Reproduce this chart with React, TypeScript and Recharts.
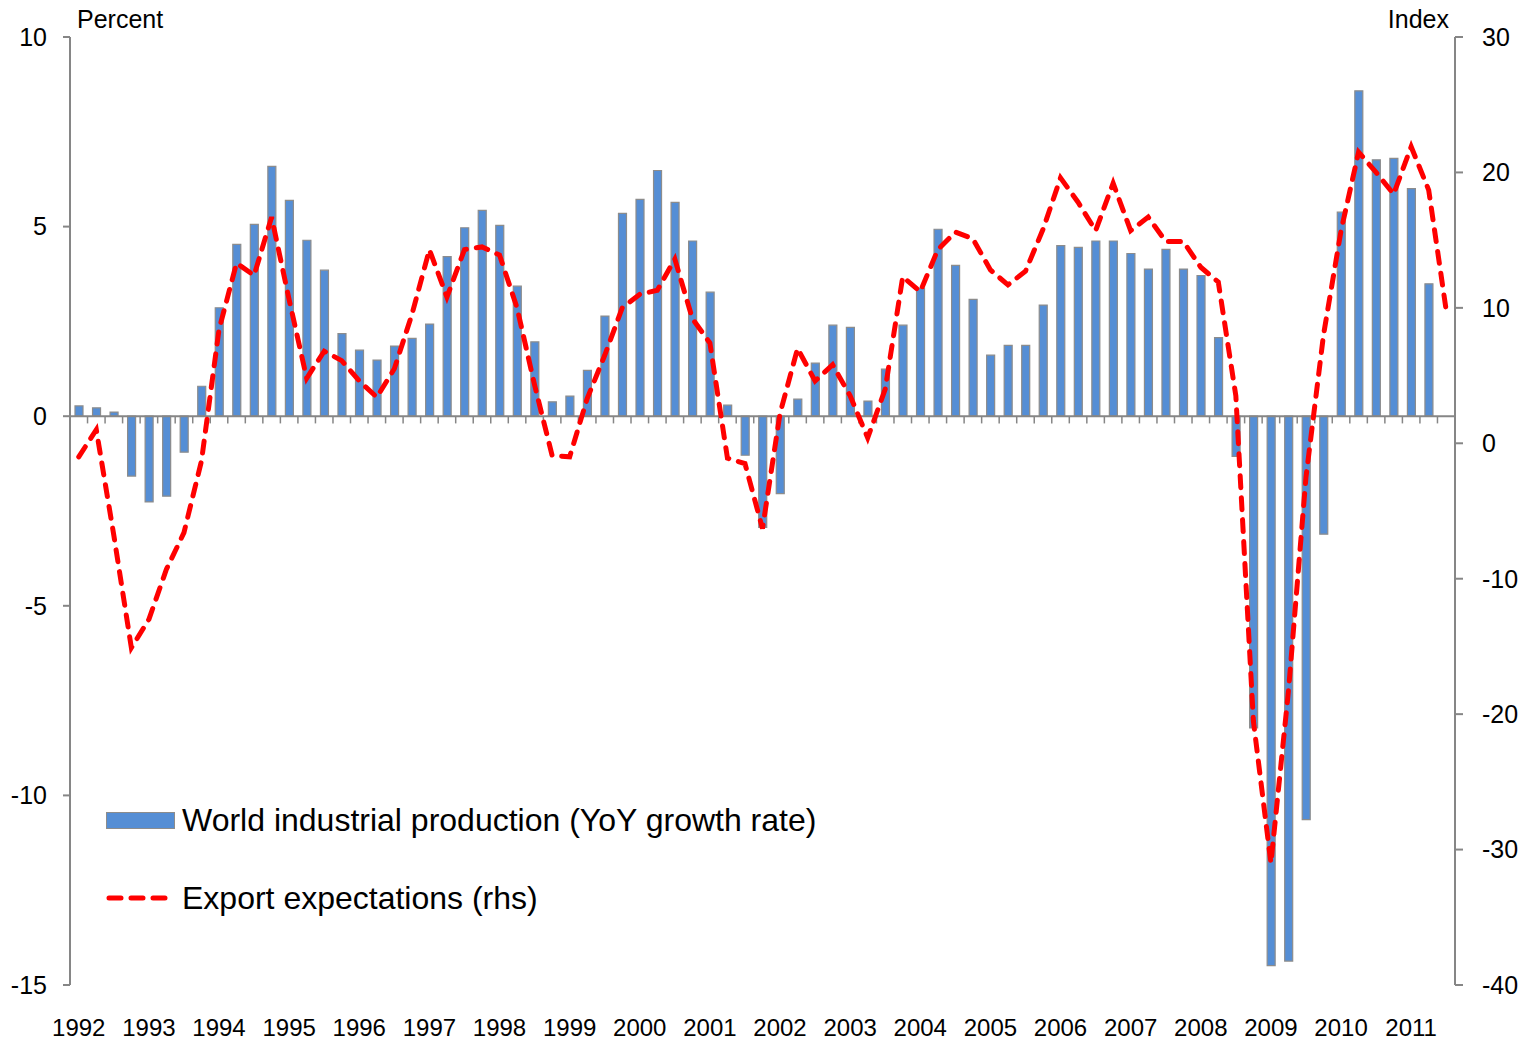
import { ComposedChart, Bar, Line, XAxis, YAxis, ReferenceLine } from "recharts";

const years = [
  "1992", "1993", "1994", "1995", "1996", "1997", "1998", "1999", "2000", "2001",
  "2002", "2003", "2004", "2005", "2006", "2007", "2008", "2009", "2010", "2011",
];
const quarterNames = ["Q1", "Q2", "Q3", "Q4"];

// quarterly, 1992Q1 .. 2011Q3
const industrialProduction: (number | null)[] = [
  0.27, 0.22, 0.11, -1.58, -2.26, -2.11, -0.95, 0.79,
  2.86, 4.53, 5.06, 6.59, 5.69, 4.64, 3.85, 2.18,
  1.74, 1.48, 1.85, 2.05, 2.43, 4.21, 4.97, 5.43,
  5.03, 3.43, 1.96, 0.38, 0.53, 1.21, 2.64, 5.35,
  5.72, 6.48, 5.64, 4.62, 3.27, 0.29, -1.03, -2.93,
  -2.04, 0.45, 1.4, 2.4, 2.34, 0.4, 1.24, 2.4,
  3.38, 4.93, 3.98, 3.08, 1.61, 1.87, 1.87, 2.93,
  4.5, 4.45, 4.62, 4.62, 4.29, 3.88, 4.4, 3.88,
  3.71, 2.07, -1.06, -8.22, -14.49, -14.37, -10.64, -3.11,
  5.38, 8.58, 6.76, 6.8, 6.0, 3.49, null,
];

const exportExpectations = [
  -1.0, 1.0, -6.8, -15.1, -13.0, -9.3, -6.6, -1.3,
  8.4, 13.3, 12.4, 16.7, 10.6, 4.8, 6.8, 6.1,
  4.6, 3.4, 5.5, 9.5, 14.3, 10.8, 14.3, 14.5,
  13.9, 10.0, 4.3, -0.9, -1.0, 3.3, 6.5, 10.0,
  11.0, 11.3, 13.6, 9.2, 7.4, -1.1, -1.5, -6.3,
  2.2, 7.0, 4.6, 5.8, 3.5, 0.4, 4.0, 12.3,
  11.2, 14.3, 15.6, 15.1, 12.8, 11.7, 12.7, 15.8,
  19.6, 17.8, 15.7, 19.2, 15.7, 16.7, 14.9, 14.9,
  13.0, 11.9, 3.5, -20.5, -31.0, -18.3, -2.5, 8.0,
  15.7, 21.5, 20.0, 18.4, 21.9, 18.7, 9.8,
];

const leftTicks = [-15, -10, -5, 0, 5, 10];
const rightTicks = [-40, -30, -20, -10, 0, 10, 20, 30];

const quarters = years
  .flatMap((y) => quarterNames.map((q) => `${y} ${q}`))
  .slice(0, exportExpectations.length);

const data = quarters.map((q, i) => ({
  quarter: q,
  ip: industrialProduction[i],
  exp: exportExpectations[i],
}));

const FONT = "'Liberation Sans', Arial, sans-serif";
const AXIS = "#868686";
const BAR_FILL = "#558ED5";
const BAR_EDGE = "#8C8C8C";
const LINE_RED = "#FF0000";

const yearLabel = (q: string) => (q.endsWith("Q1") ? q.slice(0, 4) : "");

export default function App() {
  return (
    <div style={{ position: "absolute", left: 0, top: 0, width: 1528, height: 1044, background: "#fff", fontFamily: FONT }}>
      <ComposedChart
        width={1528}
        height={1044}
        data={data}
        margin={{ top: 37, right: 0, bottom: 0, left: 0 }}
        barSize={8}
      >
        <XAxis
          dataKey="quarter"
          height={59}
          interval={0}
          axisLine={false}
          tickLine={false}
          tickSize={0}
          tickMargin={34}
          tickFormatter={yearLabel}
          tick={{ fill: "#000", fontSize: 24, fontFamily: FONT }}
        />
        <YAxis
          yAxisId="left"
          width={70}
          domain={[-15, 10]}
          ticks={leftTicks}
          allowDataOverflow
          stroke={AXIS}
          strokeWidth={2}
          tickSize={7}
          tickMargin={16}
          tick={{ fill: "#000", fontSize: 25, fontFamily: FONT }}
        />
        <YAxis
          yAxisId="right"
          orientation="right"
          width={73}
          domain={[-40, 30]}
          ticks={rightTicks}
          allowDataOverflow
          stroke={AXIS}
          strokeWidth={2}
          tickSize={8}
          tickMargin={19}
          tick={{ fill: "#000", fontSize: 25, fontFamily: FONT }}
        />
        <Bar
          yAxisId="left"
          dataKey="ip"
          fill={BAR_FILL}
          stroke={BAR_EDGE}
          strokeWidth={1.2}
          isAnimationActive={false}
        />
        <ReferenceLine yAxisId="left" y={0} stroke={AXIS} strokeWidth={2} />
        {quarters.slice(1).map((q) => (
          <ReferenceLine
            key={q}
            yAxisId="left"
            position="start"
            segment={[
              { x: q, y: 0 },
              { x: q, y: -0.19 },
            ]}
            stroke={AXIS}
            strokeWidth={1.5}
          />
        ))}
        <Line
          yAxisId="right"
          type="linear"
          dataKey="exp"
          stroke={LINE_RED}
          strokeWidth={5}
          strokeDasharray="12 10"
          strokeLinecap="round"
          dot={false}
          isAnimationActive={false}
        />
      </ComposedChart>

      <div style={{ position: "absolute", left: 77, top: 5, fontSize: 25, color: "#000" }}>Percent</div>
      <div style={{ position: "absolute", right: 1528 - 1449, top: 5, fontSize: 25, color: "#000" }}>Index</div>

      <div style={{ position: "absolute", left: 106, top: 798, fontSize: 32, color: "#000" }}>
        <div style={{ display: "flex", alignItems: "center", height: 44 }}>
          <div style={{ width: 67, height: 15, background: BAR_FILL, border: `1.5px solid ${BAR_EDGE}`, marginRight: 7 }} />
          <span>World industrial production (YoY growth rate)</span>
        </div>
        <div style={{ display: "flex", alignItems: "center", height: 44, marginTop: 34 }}>
          <svg width={70} height={10} style={{ marginRight: 6 }}>
            <line x1={3} y1={5} x2={67} y2={5} stroke={LINE_RED} strokeWidth={5} strokeDasharray="12 10" strokeLinecap="round" />
          </svg>
          <span>Export expectations (rhs)</span>
        </div>
      </div>
    </div>
  );
}
